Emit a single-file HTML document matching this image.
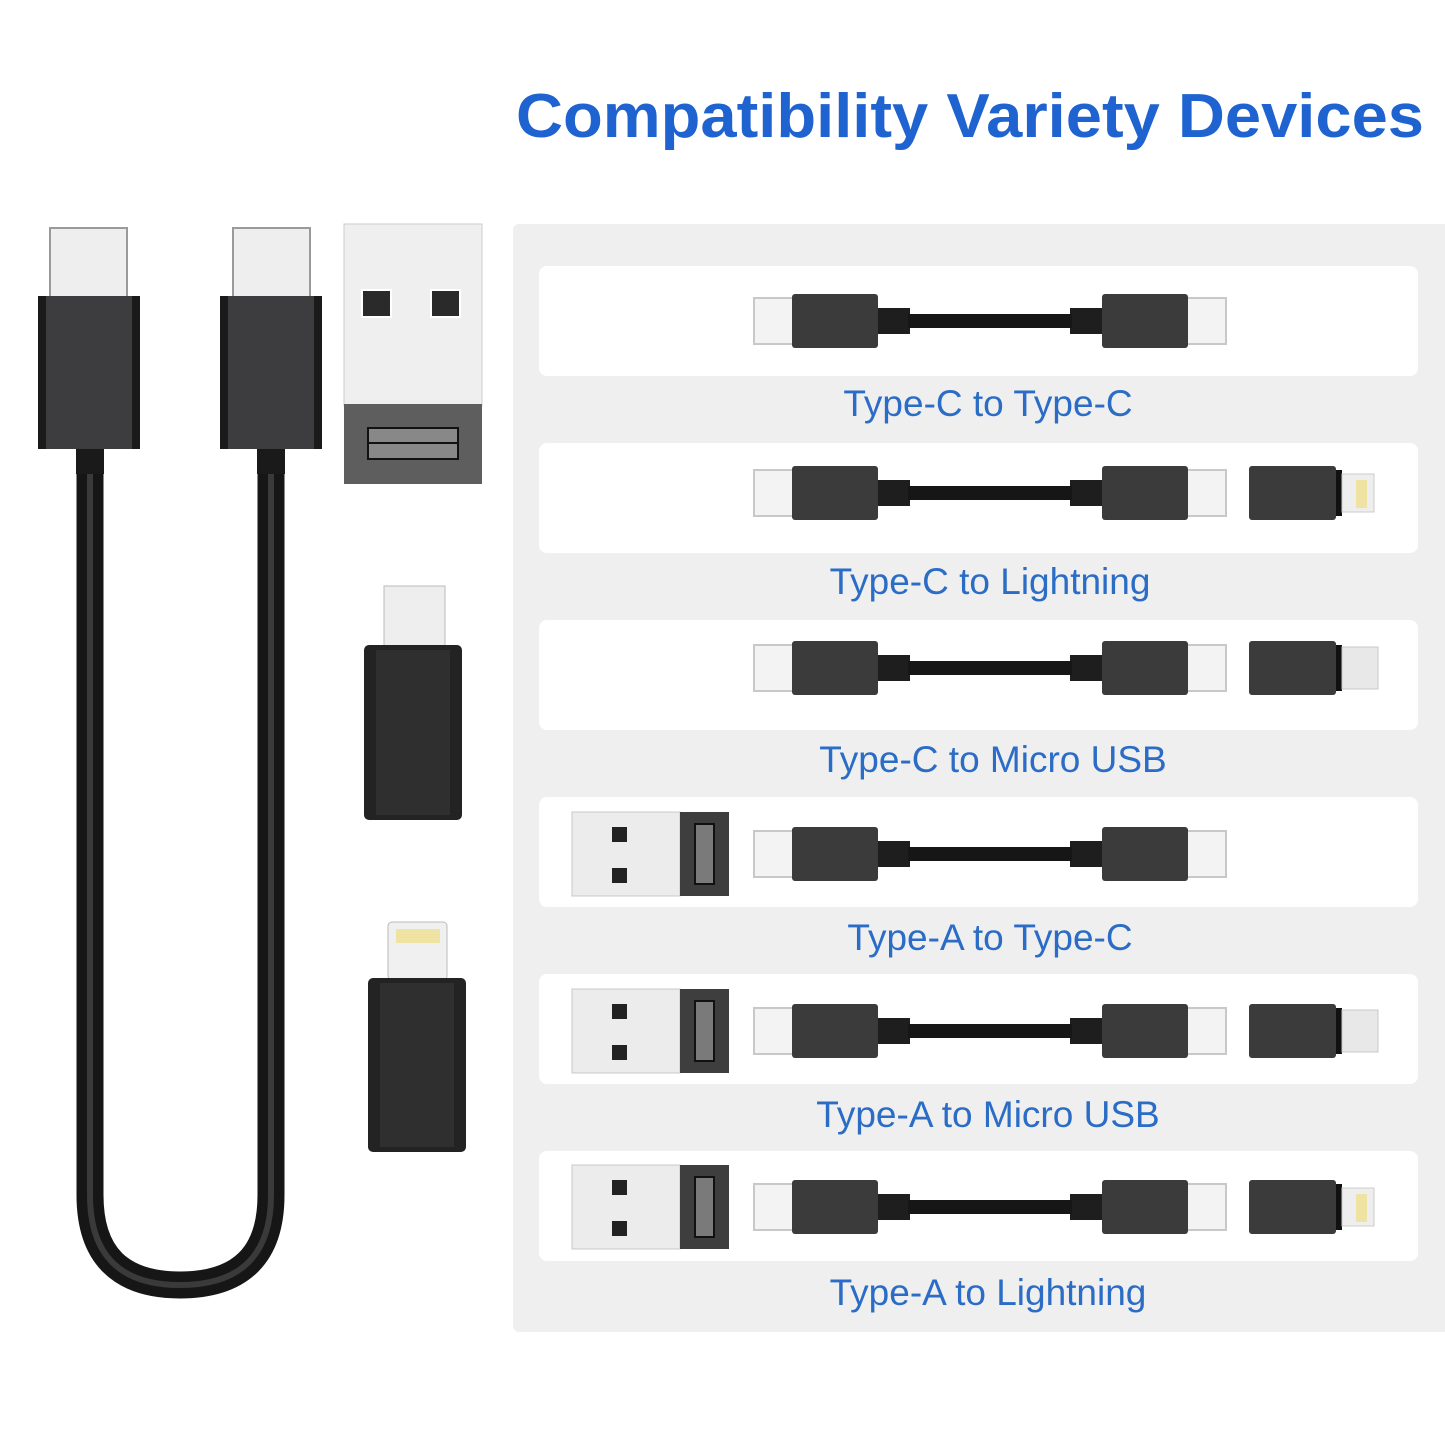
<!DOCTYPE html>
<html><head><meta charset="utf-8"><style>html,body{margin:0;padding:0;background:#fff}svg{display:block}</style></head>
<body>
<svg width="1445" height="1445" viewBox="0 0 1445 1445" xmlns="http://www.w3.org/2000/svg">
<defs>
<g id="cab">
<rect x="754" y="-23" width="40" height="46" fill="#f3f3f3" stroke="#c8c8c8" stroke-width="2"/>
<rect x="1186" y="-23" width="40" height="46" fill="#f3f3f3" stroke="#c8c8c8" stroke-width="2"/>
<rect x="792" y="-27" width="86" height="54" rx="3" fill="#3b3b3b"/>
<rect x="1102" y="-27" width="86" height="54" rx="3" fill="#3b3b3b"/>
<rect x="878" y="-13" width="32" height="26" fill="#1e1e1e"/>
<rect x="1070" y="-13" width="32" height="26" fill="#1e1e1e"/>
<rect x="908" y="-7" width="164" height="14" fill="#161616"/>
</g>
<g id="lt">
<rect x="1249" y="-27" width="87" height="54" rx="3" fill="#3b3b3b"/>
<rect x="1336" y="-23" width="6" height="46" fill="#111"/>
<rect x="1342" y="-19" width="32" height="38" fill="#eeeeee" stroke="#ccc"/>
<rect x="1356" y="-13" width="11" height="28" fill="#efe3a3"/>
</g>
<g id="mu">
<rect x="1249" y="-27" width="87" height="54" rx="3" fill="#3b3b3b"/>
<rect x="1336" y="-23" width="6" height="46" fill="#111"/>
<rect x="1342" y="-21" width="36" height="42" fill="#e8e8e8" stroke="#c8c8c8"/>
</g>
<g id="ua">
<rect x="572" y="-42" width="108" height="84" fill="#ececec" stroke="#c8c8c8"/>
<rect x="680" y="-42" width="49" height="84" fill="#3e3e3e"/>
<rect x="612" y="-27" width="15" height="15" fill="#222"/>
<rect x="612" y="14" width="15" height="15" fill="#222"/>
<rect x="695" y="-30" width="19" height="60" fill="#7a7a7a" stroke="#111" stroke-width="2"/>
</g>
</defs>
<text x="970" y="137" text-anchor="middle" font-family="Liberation Sans, sans-serif" font-weight="bold" font-size="62" fill="#1f63d1" textLength="908" lengthAdjust="spacingAndGlyphs">Compatibility Variety Devices</text>

<rect x="513" y="224" width="940" height="1108" rx="6" fill="#efefef"/>
<g fill="#fff">
<rect x="539" y="266" width="879" height="110" rx="8"/>
<rect x="539" y="443" width="879" height="110" rx="8"/>
<rect x="539" y="620" width="879" height="110" rx="8"/>
<rect x="539" y="797" width="879" height="110" rx="8"/>
<rect x="539" y="974" width="879" height="110" rx="8"/>
<rect x="539" y="1151" width="879" height="110" rx="8"/>
</g>
<use href="#cab" transform="translate(0,321)"/>
<use href="#cab" transform="translate(0,493)"/>
<use href="#lt" transform="translate(0,493)"/>
<use href="#cab" transform="translate(0,668)"/>
<use href="#mu" transform="translate(0,668)"/>
<use href="#ua" transform="translate(0,854)"/>
<use href="#cab" transform="translate(0,854)"/>
<use href="#ua" transform="translate(0,1031)"/>
<use href="#cab" transform="translate(0,1031)"/>
<use href="#mu" transform="translate(0,1031)"/>
<use href="#ua" transform="translate(0,1207)"/>
<use href="#cab" transform="translate(0,1207)"/>
<use href="#lt" transform="translate(0,1207)"/>

<g font-family="Liberation Sans, sans-serif" font-size="37" fill="#2a6cc6" text-anchor="middle">
<text x="988" y="416">Type-C to Type-C</text>
<text x="990" y="594">Type-C to Lightning</text>
<text x="993" y="772">Type-C to Micro USB</text>
<text x="990" y="950">Type-A to Type-C</text>
<text x="988" y="1127">Type-A to Micro USB</text>
<text x="988" y="1305">Type-A to Lightning</text>
</g>

<path d="M90 460 V1195 Q90 1285 180 1285 Q271 1285 271 1195 V460" fill="none" stroke="#161616" stroke-width="27"/>
<path d="M90 460 V1195 Q90 1285 180 1285 Q271 1285 271 1195 V460" fill="none" stroke="#3a3a3a" stroke-width="6"/>
<rect x="50" y="228" width="77" height="70" fill="#eeeeee" stroke="#9a9a9a" stroke-width="2"/>
<rect x="233" y="228" width="77" height="70" fill="#eeeeee" stroke="#9a9a9a" stroke-width="2"/>
<rect x="38" y="296" width="102" height="153" rx="3" fill="#3d3d3f"/>
<rect x="220" y="296" width="102" height="153" rx="3" fill="#3d3d3f"/>
<rect x="38" y="296" width="8" height="153" fill="#1a1a1a"/><rect x="132" y="296" width="8" height="153" fill="#1a1a1a"/>
<rect x="220" y="296" width="8" height="153" fill="#1a1a1a"/><rect x="314" y="296" width="8" height="153" fill="#1a1a1a"/>
<rect x="76" y="449" width="28" height="25" fill="#1a1a1a"/>
<rect x="257" y="449" width="28" height="25" fill="#1a1a1a"/>

<rect x="344" y="224" width="138" height="182" fill="#efefef" stroke="#ccc"/>
<rect x="344" y="404" width="138" height="80" fill="#5e5e5e"/>
<rect x="362" y="290" width="29" height="27" fill="#2a2a2a" stroke="#fff" stroke-width="2"/>
<rect x="431" y="290" width="29" height="27" fill="#2a2a2a" stroke="#fff" stroke-width="2"/>
<rect x="368" y="428" width="90" height="31" fill="#888" stroke="#111" stroke-width="2"/>
<line x1="368" y1="443" x2="458" y2="443" stroke="#111" stroke-width="2"/>

<rect x="384" y="586" width="61" height="62" fill="#eeeeee" stroke="#bbb"/>
<rect x="364" y="645" width="98" height="175" rx="5" fill="#232323"/>
<rect x="376" y="650" width="74" height="165" fill="#2f2f2f"/>
<rect x="388" y="922" width="59" height="58" rx="4" fill="#f0f0f0" stroke="#bbb"/>
<rect x="396" y="929" width="44" height="14" fill="#efe3a3"/>
<rect x="368" y="978" width="98" height="174" rx="5" fill="#232323"/>
<rect x="380" y="983" width="74" height="164" fill="#2f2f2f"/>
</svg>
</body></html>
